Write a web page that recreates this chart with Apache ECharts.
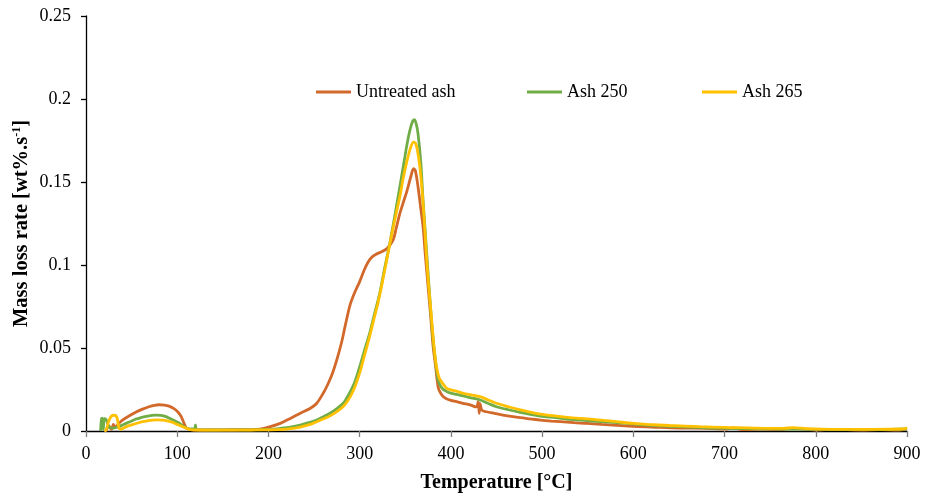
<!DOCTYPE html>
<html>
<head>
<meta charset="utf-8">
<script src="https://cdn.jsdelivr.net/npm/echarts@6/dist/echarts.min.js"></script>
<style>
  html, body { margin: 0; padding: 0; background: #fff; }
  #chart { width: 927px; height: 495px; }
</style>
</head>
<body>
<div id="chart"></div>
<script>
// DTG curves: mass loss rate [wt%/s] versus temperature [°C], as [temperature, rate] pairs
const seriesNames = ['Untreated ash', 'Ash 250', 'Ash 265'];
const seriesColors = ['#D2692A', '#70AD47', '#FFC000'];

const untreatedAsh = [
  [22,0.0],[25,0.003],[28,0.001],[30,0.004],[32,0.002],[35,0.004],[40,0.0066],[47,0.009],
  [55,0.0114],[62,0.0132],[69,0.0146],[75,0.0155],[80,0.0158],[86,0.0156],[91,0.015],
  [96,0.0136],[100.5,0.0116],[104,0.009],[106,0.0066],[108,0.004],[110,0.0018],[115,0.0008],
  [130,0.0006],[150,0.0007],[170,0.0008],[187,0.001],[195,0.0016],[202,0.0026],[213,0.0046],
  [224,0.0076],[235,0.0107],[246,0.0137],[253,0.0167],[260,0.0227],[265,0.028],[270,0.0345],
  [275,0.043],[280,0.053],[284,0.063],[289.5,0.076],[295,0.084],[300,0.090],[305,0.097],
  [309,0.1015],[313,0.1045],[318,0.1065],[324,0.108],[330,0.110],[336.6,0.115],[340,0.122],
  [344,0.131],[348,0.138],[352,0.145],[356,0.153],[359,0.158],[361,0.157],[364,0.147],
  [367,0.134],[369.5,0.123],[372,0.106],[375,0.087],[378,0.068],[380.5,0.051],[383,0.04],
  [386,0.0265],[388,0.0235],[391,0.021],[395,0.0195],[400,0.0185],[406,0.0177],[413,0.0167],
  [421,0.0157],[428,0.0145],[430,0.0177],[431,0.0107],[432,0.0165],[434,0.0125],[439,0.0116],
  [448,0.0106],[457,0.0096],[466,0.0088],[476,0.008],[487,0.0073],[498,0.0066],[510,0.006],
  [520,0.0056],[535,0.005],[549,0.0046],[565,0.004],[582,0.0034],[600,0.0028],[620,0.0024],
  [650,0.0018],[680,0.0016],[700,0.0012],[710,0.0018],[720,0.0008],[740,0.0012],[760,0.0008],
  [775,0.0016],[790,0.001],[800,0.0006],[820,0.001],[850,0.0006],[870,0.0008],[890,0.0006],
  [900,0.0012]
];

const ash250 = [
  [16,0.0],[17,0.0072],[18,0.0078],[19,0.001],[20,0.0075],[22,0.007],[24,0.004],[26,0.002],
  [30,0.0018],[35,0.0024],[40,0.0036],[44,0.0046],[50,0.006],[55,0.0072],[60,0.008],
  [66,0.0088],[72,0.0094],[77,0.0096],[82,0.0094],[87,0.0088],[91,0.0078],[96,0.0064],
  [102,0.0048],[106,0.0032],[110,0.0018],[115,0.0012],[119,0.0012],[120,0.0036],[121,0.0008],
  [140,0.0006],[170,0.0007],[200,0.0008],[213,0.0016],[224,0.0024],[235,0.0036],[244,0.005],
  [253,0.0066],[260,0.0085],[267.5,0.0107],[275,0.0135],[282,0.0167],[286,0.0200],
  [290,0.0240],[295,0.0300],[300,0.0386],[305,0.048],[311,0.059],[316,0.07],[322,0.083],
  [327,0.097],[333,0.113],[338,0.128],[344,0.147],[348,0.160],[352,0.173],[355,0.181],
  [358,0.1865],[360,0.1875],[362,0.185],[364,0.179],[367,0.162],[369.5,0.139],[372,0.119],
  [375,0.095],[378,0.072],[380.5,0.055],[383,0.043],[386,0.0307],[390,0.026],[395.5,0.0237],
  [400,0.0228],[406,0.0220],[413.7,0.0211],[422,0.0200],[432,0.0187],[441,0.0166],[450,0.0146],
  [463,0.0128],[476,0.0112],[487,0.0100],[498,0.009],[515,0.008],[531,0.007],[556,0.006],
  [582,0.005],[615,0.0036],[650,0.0026],[688,0.0018],[720,0.0014],[760,0.0012],[797,0.001],
  [830,0.0008],[870,0.0008],[900,0.0012]
];

const ash265 = [
  [20,0.0],[22,0.0005],[25,0.006],[28,0.009],[31,0.0095],[34,0.008],[36,0.002],[38,0.001],
  [42,0.002],[47,0.0032],[55,0.0045],[62,0.0056],[68,0.0062],[73,0.0066],[78,0.0067],
  [84,0.0066],[90,0.006],[95,0.0052],[100,0.004],[106,0.0026],[113,0.001],[120,0.0006],
  [150,0.0005],[180,0.0006],[210,0.0008],[225,0.0014],[235,0.0024],[245,0.0038],[253,0.0056],
  [260,0.0072],[267.5,0.0091],[275,0.0117],[282,0.0148],[286,0.0175],[290,0.021],[295,0.027],
  [300,0.035],[305,0.045],[310,0.055],[315,0.066],[320,0.077],[325,0.090],[330,0.104],
  [335,0.118],[340,0.131],[344,0.141],[348,0.153],[352,0.163],[356,0.171],[359,0.174],
  [361,0.1735],[363,0.170],[366,0.159],[369,0.141],[371.7,0.119],[374,0.099],[377,0.079],
  [380,0.06],[383,0.043],[386,0.034],[388,0.031],[392,0.028],[395.5,0.0257],[400,0.0248],
  [406,0.0240],[413.7,0.0227],[422,0.0218],[432,0.0207],[441,0.0187],[450,0.0167],[463,0.0146],
  [476,0.0127],[487,0.0114],[498,0.0102],[515,0.009],[531,0.008],[542,0.0076],[564,0.0066],
  [582,0.0056],[600,0.0046],[615,0.004],[640,0.0033],[673,0.0026],[700,0.0022],[746,0.0016],
  [765,0.0016],[775,0.002],[790,0.0014],[820,0.001],[860,0.001],[892,0.0012],[898,0.0014],
  [900,0.002]
];

const seriesData = [untreatedAsh, ash250, ash265];
const yTickLabels = ['0', '0.05', '0.1', '0.15', '0.2', '0.25'];
const legendLeft = [311, 522, 697];

const FONT = '"Liberation Serif", "Times New Roman", serif';
const chart = echarts.init(document.getElementById('chart'), null, { renderer: 'canvas' });

chart.setOption({
  animation: false,
  backgroundColor: '#ffffff',
  grid: { left: 86, right: 20, top: 16, bottom: 64, containLabel: false, outerBoundsMode: 'none' },
  legend: seriesNames.map((name, i) => ({
    data: [name],
    left: legendLeft[i],
    top: 78,
    icon: 'rect',
    itemWidth: 35,
    itemHeight: 3,
    textStyle: { fontFamily: FONT, fontSize: 18, color: '#000' }
  })),
  xAxis: {
    type: 'value',
    min: 0, max: 900, interval: 100,
    name: 'Temperature [°C]',
    nameLocation: 'middle',
    nameGap: 42,
    nameMoveOverlap: false,
    nameTextStyle: { fontFamily: FONT, fontSize: 20, fontWeight: 'bold', color: '#000' },
    axisLine: { show: true, onZero: false, lineStyle: { color: '#000', width: 1.3 } },
    axisTick: { show: true, inside: false, length: 6, lineStyle: { color: '#7f7f7f', width: 1.3 } },
    axisLabel: { fontFamily: FONT, fontSize: 18, color: '#000', margin: 14 },
    splitLine: { show: false }
  },
  yAxis: {
    type: 'value',
    min: 0, max: 0.25, interval: 0.05,
    name: '{t|Mass loss rate [wt%.s}{s|-1}{t|]}',
    nameLocation: 'middle',
    nameGap: 54,
    nameMoveOverlap: false,
    nameTextStyle: {
      fontFamily: FONT, fontSize: 20.5, fontWeight: 'bold', color: '#000',
      rich: {
        t: { fontFamily: FONT, fontSize: 20.5, fontWeight: 'bold', color: '#000' },
        s: { fontFamily: FONT, fontSize: 12, fontWeight: 'bold', color: '#000', verticalAlign: 'top', padding: [0, 0, 8, 0] }
      }
    },
    axisLine: { show: true, lineStyle: { color: '#000', width: 1.3 } },
    axisTick: { show: true, inside: false, length: 5, lineStyle: { color: '#000', width: 1.3 } },
    axisLabel: {
      fontFamily: FONT, fontSize: 18, color: '#000', margin: 15,
      formatter: (v) => yTickLabels[Math.round(v / 0.05)]
    },
    splitLine: { show: false }
  },
  series: seriesNames.map((name, i) => ({
    name: name,
    type: 'line',
    data: seriesData[i],
    showSymbol: false,
    symbol: 'none',
    smooth: 0.3,
    lineStyle: { color: seriesColors[i], width: 2.8 },
    itemStyle: { color: seriesColors[i] },
    z: 2 + i
  }))
});
</script>
</body>
</html>
